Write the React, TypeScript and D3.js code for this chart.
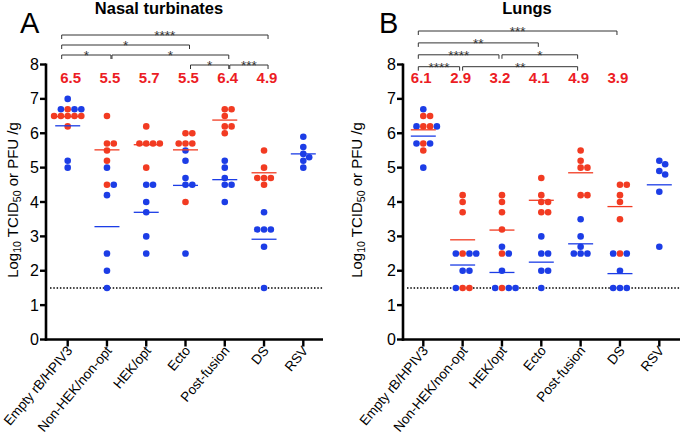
import React from "react";
import * as d3 from "d3";

const categories = ["Empty rB/HPIV3", "Non-HEK/non-opt", "HEK/opt", "Ecto", "Post-fusion", "DS", "RSV"];
const yTicks = [0, 1, 2, 3, 4, 5, 6, 7, 8];
const LOD = 1.5;

const nasalRed: number[][] = [
  [6.7, 6.5, 6.5, 6.5, 6.5, 6.5, 6.2],
  [6.5, 5.7, 5.7, 5.5, 5.2, 4.5],
  [6.2, 5.7, 5.7, 5.7, 5.7, 5.0],
  [6.0, 6.0, 5.7, 5.7, 5.7, 4.0],
  [6.7, 6.7, 6.5, 6.2, 6.2, 6.0],
  [5.5, 5.0, 4.7, 4.7, 4.7, 4.5],
  [],
];
const nasalBlue: number[][] = [
  [7.0, 6.7, 6.7, 6.7, 5.2, 5.0],
  [5.0, 4.5, 4.2, 2.5, 2.0, 1.5],
  [4.5, 4.5, 4.0, 3.7, 3.0, 2.5],
  [5.5, 5.2, 4.7, 4.5, 4.5, 2.5],
  [5.2, 5.0, 4.7, 4.5, 4.5, 4.0],
  [3.7, 3.2, 3.2, 3.2, 2.7, 1.5],
  [5.9, 5.6, 5.4, 5.3, 5.2, 5.0],
];
const nasalLabels = ["6.5", "5.5", "5.7", "5.5", "6.4", "4.9"];
// [group1, group2, stars, level]
const nasalBrackets: [number, number, string, number][] = [
  [0, 5, "****", 3],
  [0, 3, "*", 2],
  [0, 1, "*", 1],
  [1, 4, "*", 1],
  [3, 4, "*", 0],
  [4, 5, "***", 0],
];

const lungRed: number[][] = [
  [6.5, 6.5, 6.2, 6.2, 5.7, 5.5],
  [4.2, 4.0, 3.7, 2.5, 1.5, 1.5],
  [4.2, 4.0, 3.7, 3.2, 2.5, 1.5],
  [4.7, 4.2, 4.0, 4.0, 3.7, 3.7],
  [5.5, 5.2, 5.0, 5.0, 4.2, 4.2],
  [4.5, 4.5, 4.2, 4.0, 3.5, 2.5],
  [],
];
const lungBlue: number[][] = [
  [6.7, 6.2, 6.2, 5.7, 5.7, 5.0],
  [2.5, 2.5, 2.5, 2.0, 2.0, 1.5],
  [2.7, 2.5, 2.0, 1.5, 1.5, 1.5],
  [3.0, 2.5, 2.5, 2.0, 2.0, 1.5],
  [3.5, 3.0, 2.7, 2.5, 2.5, 2.5],
  [2.5, 2.5, 2.0, 1.5, 1.5, 1.5],
  [5.2, 5.1, 4.9, 4.8, 4.3, 2.7],
];
const lungLabels = ["6.1", "2.9", "3.2", "4.1", "4.9", "3.9"];
const lungBrackets: [number, number, string, number][] = [
  [0, 5, "***", 3],
  [0, 3, "**", 2],
  [0, 2, "****", 1],
  [2, 4, "*", 1],
  [0, 1, "****", 0],
  [1, 4, "**", 0],
];

const RED = "#f23b22";
const BLUE = "#1c3de6";
const FONT = "'Liberation Sans', Arial, Helvetica, sans-serif";

type P = { v: number; c: string; x: number; y: number };

function swarm(red: number[], blue: number[], y: (v: number) => number, D: number): P[] {
  const pts = [
    ...red.map((v) => ({ v, c: RED })),
    ...blue.map((v) => ({ v, c: BLUE })),
  ].sort((a, b) => b.v - a.v);
  const placed: P[] = [];
  for (const p of pts) {
    const py = y(p.v);
    const cands = [0];
    for (const q of placed) {
      const dy = py - q.y;
      if (Math.abs(dy) < D) {
        const dx = Math.sqrt(D * D - dy * dy);
        cands.push(q.x + dx, q.x - dx);
      }
    }
    cands.sort((a, b) => Math.abs(a) - Math.abs(b));
    let chosen = 0;
    for (const cx of cands) {
      const ok = placed.every((q) => Math.hypot(q.x - cx, q.y - py) >= D - 1e-6);
      if (ok) {
        chosen = cx;
        break;
      }
    }
    placed.push({ ...p, x: chosen, y: py });
  }
  return placed;
}

type PanelProps = {
  axisX: number;
  axisEnd: number;
  xRange: [number, number];
  red: number[][];
  blue: number[][];
  labels: string[];
  labelDx: number;
  brackets: [number, number, string, number][];
  bracketBase: number;
  bracketStep: number;
  bStart: number;
  bStartInner: number;
  bEnd: number;
  title: string;
  titleX: number;
  letter: string;
  letterX: number;
  yLabelX: number;
};

function Panel(props: PanelProps) {
  const {
    axisX, axisEnd, xRange, red, blue, labels, labelDx, brackets,
    bracketBase, bracketStep, bStart, bStartInner, bEnd, title, titleX, letter, letterX, yLabelX,
  } = props;
  const y = d3.scaleLinear().domain([0, 8]).range([339.5, 64.5]);
  const x = d3.scalePoint<string>().domain(categories).range(xRange);
  const R = 3.3;
  const D = 6.8;
  const half = 12.5;

  return (
    <g>
      <text x={letterX} y={33} fontSize={29} fontFamily={FONT}>{letter}</text>
      <text x={titleX} y={14} fontSize={16.5} fontWeight="bold" fontFamily={FONT} textAnchor="middle">{title}</text>

      {/* brackets */}
      {brackets.map(([g1, g2, s, lvl], i) => {
        const ly = bracketBase - lvl * bracketStep;
        const x1 = (x(categories[g1]) as number) + (g1 === 0 ? bStart : bStartInner);
        const x2 = (x(categories[g2]) as number) + bEnd;
        return (
          <g key={i}>
            <path d={`M${x1},${ly + 4}V${ly}H${x2}V${ly + 4}`} fill="none" stroke="#333" strokeWidth={1} />
            <text x={(x1 + x2) / 2} y={ly + 5} fontSize={13.5} fontFamily={FONT} textAnchor="middle" fill="#333">{s}</text>
          </g>
        );
      })}

      {/* LOD dotted line */}
      <line x1={axisX + 4} x2={axisEnd} y1={y(LOD)} y2={y(LOD)} stroke="#000" strokeWidth={1.5} strokeDasharray="1.5,1.8" />

      {/* points */}
      {categories.map((cat, gi) => {
        const cx = x(cat) as number;
        const pts = swarm(red[gi], blue[gi], y, D);
        return (
          <g key={cat}>
            {pts.map((p, k) => (
              <circle key={k} cx={cx + p.x} cy={p.y} r={R} fill={p.c} />
            ))}
          </g>
        );
      })}
      {/* mean lines */}
      {categories.map((cat, gi) => {
        const cx = x(cat) as number;
        const out: any[] = [];
        if (red[gi].length) {
          const m = d3.mean(red[gi]) as number;
          out.push(<line key="r" x1={cx - half} x2={cx + half} y1={y(m)} y2={y(m)} stroke={RED} strokeWidth={1.3} />);
        }
        if (blue[gi].length) {
          const m = d3.mean(blue[gi]) as number;
          out.push(<line key="b" x1={cx - half} x2={cx + half} y1={y(m)} y2={y(m)} stroke={BLUE} strokeWidth={1.3} />);
        }
        return <g key={cat + "m"}>{out}</g>;
      })}

      {/* mean labels */}
      {labels.map((l, i) => (
        <text key={i} x={(x(categories[i]) as number) + labelDx} y={82.5} fontSize={15} fontWeight="bold"
          fontFamily={FONT} fill="#ec1c24" textAnchor="middle">{l}</text>
      ))}

      {/* axes */}
      <line x1={axisX} x2={axisX} y1={y(8) - 1} y2={y(0) + 1.2} stroke="#000" strokeWidth={2.6} />
      <line x1={axisX - 1.2} x2={axisEnd} y1={y(0)} y2={y(0)} stroke="#000" strokeWidth={2.6} />
      {yTicks.map((t) => (
        <g key={t}>
          <line x1={axisX - 6} x2={axisX} y1={y(t)} y2={y(t)} stroke="#000" strokeWidth={2.4} />
          <text x={axisX - 7} y={y(t) + 5.6} fontSize={16} fontFamily={FONT} textAnchor="end">{t}</text>
        </g>
      ))}
      {categories.map((cat) => {
        const cx = x(cat) as number;
        return (
          <g key={cat + "t"}>
            <line x1={cx} x2={cx} y1={y(0)} y2={y(0) + 7} stroke="#000" strokeWidth={2.4} />
            <text transform={`translate(${cx + 5.5},${351}) rotate(-50)`} fontSize={13.5} fontFamily={FONT} textAnchor="end">{cat}</text>
          </g>
        );
      })}

      {/* y label */}
      <text transform={`translate(${yLabelX},${200}) rotate(-90)`} fontSize={15} fontFamily={FONT} textAnchor="middle">
        Log<tspan fontSize={10.5} dy={3}>10</tspan><tspan dy={-3}> TCID</tspan><tspan fontSize={10.5} dy={3}>50</tspan><tspan dy={-3}> or PFU /g</tspan>
      </text>
    </g>
  );
}

export default function App() {
  return (
    <svg width={680} height={444} style={{ position: "absolute", left: 0, top: 0, background: "#fff" }}>
      <rect width={680} height={444} fill="#fff" />
      <Panel
        axisX={46} axisEnd={323} xRange={[67.7, 303.3]}
        red={nasalRed} blue={nasalBlue} labels={nasalLabels} labelDx={3}
        brackets={nasalBrackets} bracketBase={65} bracketStep={10}
        bStart={-6} bStartInner={5} bEnd={4}
        title="Nasal turbinates" titleX={159} letter="A" letterX={20} yLabelX={18}
      />
      <Panel
        axisX={403} axisEnd={680} xRange={[423.3, 659.3]}
        red={lungRed} blue={lungBlue} labels={lungLabels} labelDx={-2}
        brackets={lungBrackets} bracketBase={66.7} bracketStep={11.9}
        bStart={-5} bStartInner={0} bEnd={-3}
        title="Lungs" titleX={527} letter="B" letterX={379} yLabelX={362}
      />
    </svg>
  );
}
